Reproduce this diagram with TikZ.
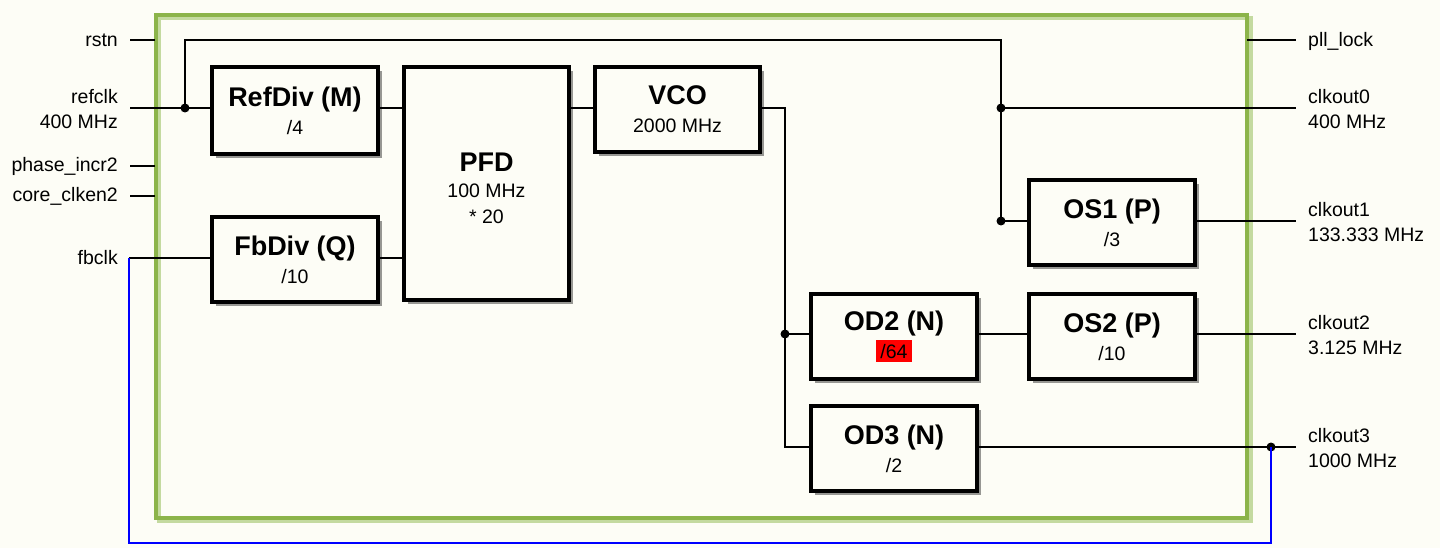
\documentclass[tikz,border=0pt]{standalone}
\usepackage{fontspec}
\setmainfont{Liberation Sans}
\usetikzlibrary{shadows}
\definecolor{bg}{RGB}{253,253,246}
\definecolor{framegreen}{RGB}{140,180,74}
\definecolor{frameshade}{RGB}{196,218,160}
\newcommand{\ttl}[1]{{\bfseries\fontsize{27}{29}\selectfont #1}}
\begin{document}
\begin{tikzpicture}[x=1pt,y=-1pt,
  block/.style={draw=black, line width=4pt, fill=bg, align=center, inner sep=0pt,
    drop shadow={shadow xshift=4pt, shadow yshift=-4pt, fill=black, opacity=0.4},
    font=\fontsize{19.5}{28}\selectfont},
  wire/.style={line width=2.4pt, black},
  pinline/.style={line width=2.8pt, black},
  fbwire/.style={line width=2.8pt, blue},
  jdot/.style={circle, fill=black, inner sep=0pt, minimum size=9pt},
  lblL/.style={font=\fontsize{19.5}{25}\selectfont, inner sep=0pt, anchor=east, align=right},
  lblR/.style={font=\fontsize{19.5}{25}\selectfont, inner sep=0pt, anchor=west, align=left}]
\fill[bg] (0,0) rectangle (1440,548);
\useasboundingbox (0,0) rectangle (1440,548);

% frame
\draw[frameshade, line width=4pt] (158.5,18.5) rectangle (1250.5,521);
\draw[framegreen, line width=4pt] (155.5,15.5) rectangle (1247,517.5);

% blocks
\node[block, minimum width=166pt, minimum height=87pt] (refdiv) at (295,110.5) {\ttl{RefDiv (M)}\\/4};
\node[block, minimum width=166pt, minimum height=85pt] (fbdiv) at (295,259.5) {\ttl{FbDiv (Q)}\\/10};
\node[block, minimum width=165pt, minimum height=233pt,
  label={[font=\fontsize{19.5}{26}\selectfont, align=center, inner sep=0pt, yshift=-5pt]center:{\ttl{PFD}\\100 MHz\\* 20}}] (pfd) at (486.5,183.5) {};
\node[block, minimum width=165pt, minimum height=85pt] (vco) at (677.5,109.5) {\ttl{VCO}\\2000 MHz};
\node[block, minimum width=166pt, minimum height=85pt] (os1) at (1112,222.5) {\ttl{OS1 (P)}\\/3};
\node[block, minimum width=166pt, minimum height=85pt] (od2) at (894,336.5) {\ttl{OD2 (N)}\\{\setlength{\fboxsep}{4pt}\colorbox{red}{/64}}};
\node[block, minimum width=166pt, minimum height=85pt] (os2) at (1112,336.5) {\ttl{OS2 (P)}\\/10};
\node[block, minimum width=166pt, minimum height=85pt] (od3) at (894,448.5) {\ttl{OD3 (N)}\\/2};

% pin coordinates
\coordinate (p_rstn) at (130,40);
\coordinate (p_refclk) at (130,108);
\coordinate (p_phase) at (130,166);
\coordinate (p_clken) at (130,196);
\coordinate (p_fbclk) at (129,258);
\coordinate (e_rstn) at (155,40);
\coordinate (e_phase) at (155,166);
\coordinate (e_clken) at (155,196);
\coordinate (e_lock) at (1247,40);
\coordinate (p_lock) at (1296,40);
\coordinate (p_clk0) at (1296,108);
\coordinate (p_clk1) at (1296,221);
\coordinate (p_clk2) at (1296,334);
\coordinate (p_clk3) at (1296,447);

% junctions and bends
\node[jdot] (j1) at (185,108) {};
\node[jdot] (j2) at (1001,108) {};
\node[jdot] (j3) at (1001,221) {};
\node[jdot] (j4) at (785,334) {};
\node[jdot] (j5) at (1271,447) {};
\coordinate (c1) at (185,40);
\coordinate (c2) at (1001,40);
\coordinate (c3) at (785,108);
\coordinate (c4) at (785,447);
\coordinate (b1) at (1271,543);
\coordinate (b2) at (129,543);

% pin stubs
\draw[pinline] (p_rstn) -- (e_rstn);
\draw[pinline] (p_phase) -- (e_phase);
\draw[pinline] (p_clken) -- (e_clken);
\draw[pinline] (e_lock) -- (p_lock);

% wires
\draw[wire] (p_refclk) -- (p_refclk -| refdiv.west);
\draw[wire] (j1.center) -- (c1) -- (c2) -- (j3.center);
\draw[wire] (refdiv.east |- p_refclk) -- (pfd.west |- p_refclk);
\draw[wire] (p_fbclk) -- (p_fbclk -| fbdiv.west);
\draw[wire] (fbdiv.east |- p_fbclk) -- (pfd.west |- p_fbclk);
\draw[wire] (pfd.east |- p_refclk) -- (vco.west |- p_refclk);
\draw[wire] (vco.east |- c3) -- (c3) -- (c4) -- (od3.west |- c4);
\draw[wire] (j4.center) -- (od2.west |- j4);
\draw[wire] (od2.east |- j4) -- (os2.west |- j4);
\draw[wire] (os2.east |- j4) -- (p_clk2);
\draw[wire] (j2.center) -- (p_clk0);
\draw[wire] (j3.center) -- (os1.west |- j3);
\draw[wire] (os1.east |- j3) -- (p_clk1);
\draw[wire] (od3.east |- c4) -- (p_clk3);
\draw[fbwire] (j5.center) -- (b1) -- (b2) -- (p_fbclk);

% labels left
\node[lblL] (l_rstn) at (118,40) {rstn};
\node[lblL] (l_refclk) at (118,109) {refclk\\400 MHz};
\node[lblL] (l_phase) at (118,166) {phase\_incr2};
\node[lblL] (l_clken) at (118,196) {core\_clken2};
\node[lblL] (l_fbclk) at (118,258) {fbclk};
% labels right
\node[lblR] (l_lock) at (1308,41) {pll\_lock};
\node[lblR] (l_clk0) at (1308,109) {clkout0\\400 MHz};
\node[lblR] (l_clk1) at (1308,222) {clkout1\\133.333 MHz};
\node[lblR] (l_clk2) at (1308,335) {clkout2\\3.125 MHz};
\node[lblR] (l_clk3) at (1308,448) {clkout3\\1000 MHz};
\end{tikzpicture}
\end{document}
